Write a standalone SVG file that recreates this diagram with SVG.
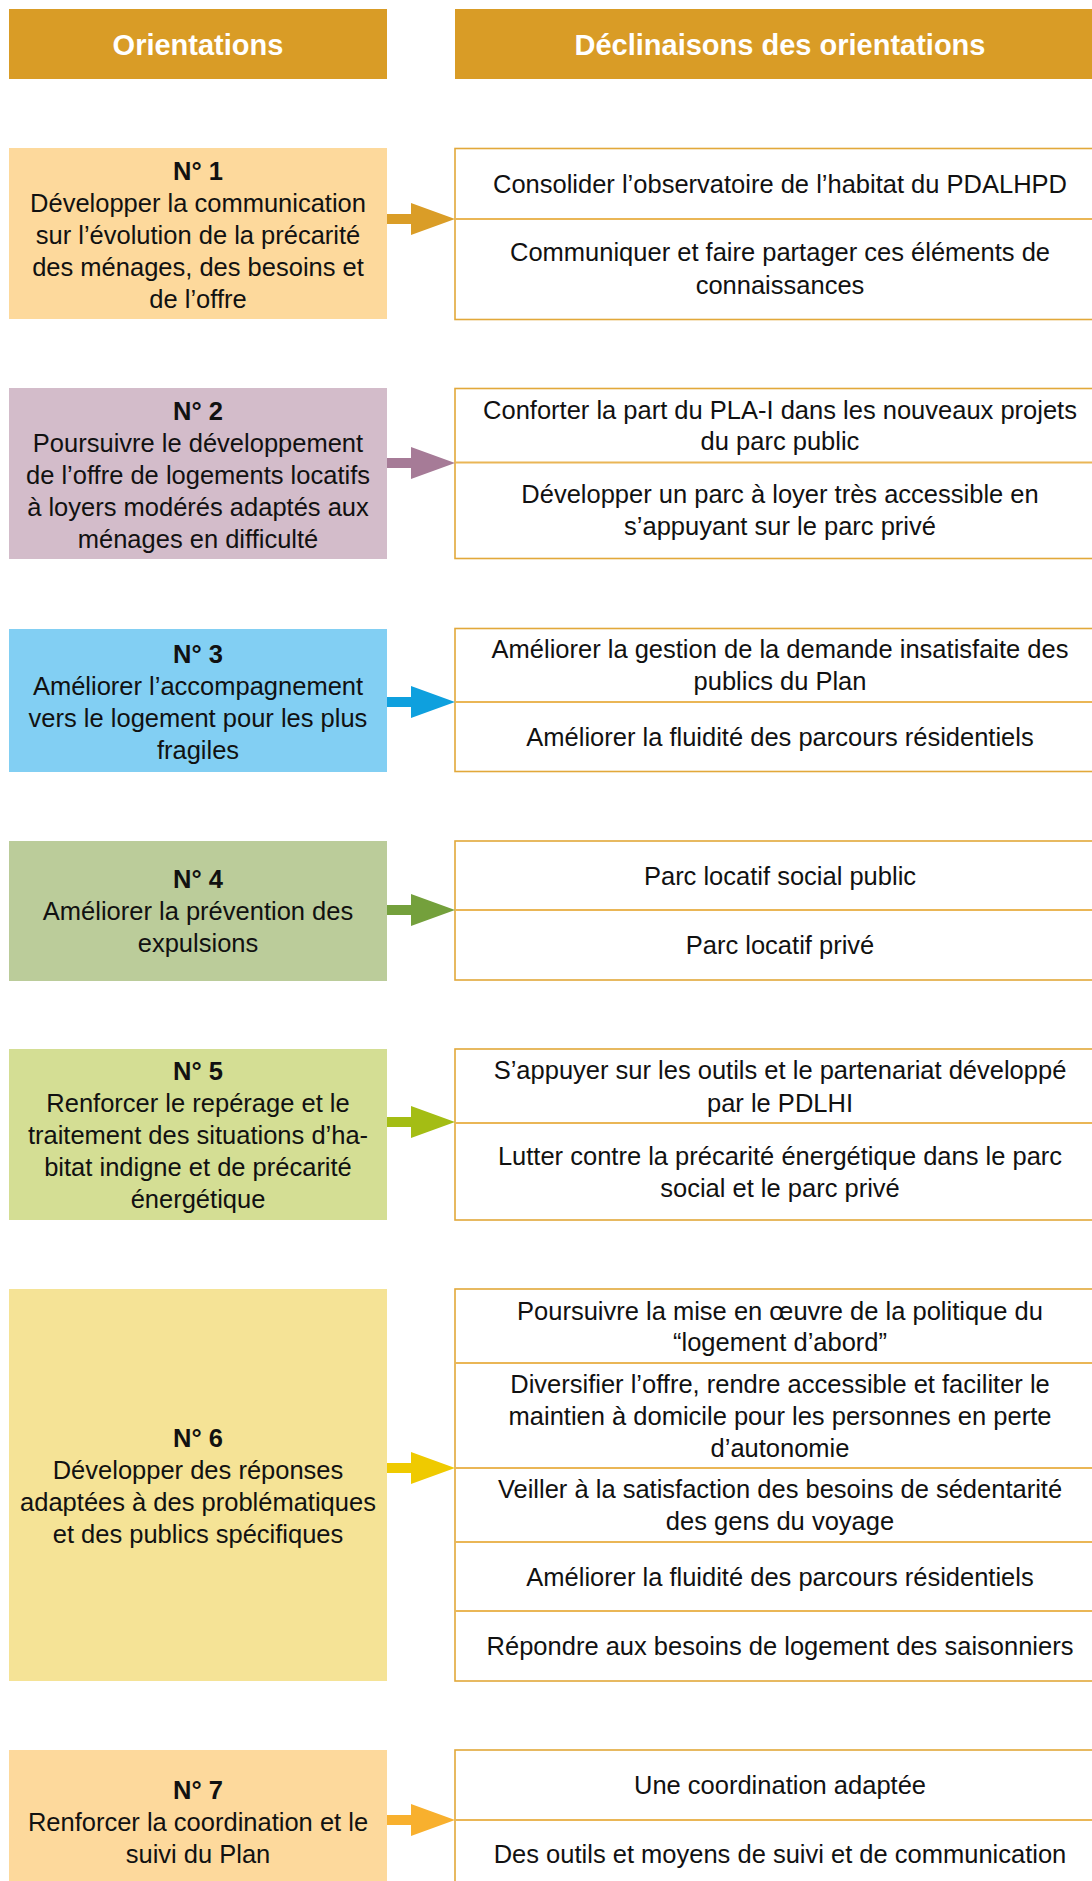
<svg xmlns="http://www.w3.org/2000/svg" width="1092" height="1881" viewBox="0 0 1092 1881">
<style>
.hd{fill:#D99C26}
.ht{font-family:"Liberation Sans",Arial,sans-serif;font-weight:bold;font-size:29px;fill:#fff;text-anchor:middle}
.lt{font-family:"Liberation Sans",Arial,sans-serif;font-size:25.5px;fill:#111;text-anchor:middle}
.nb{font-weight:bold}
.rb{fill:#fff;stroke:#E2A83A;stroke-width:1.6}
.dv{stroke:#EAB656;stroke-width:2;fill:none}
</style>
<rect width="1092" height="1881" fill="#fff"/>
<g id="headers">
<rect class="hd" x="9" y="9" width="378" height="70"/>
<text class="ht" x="198" y="55">Orientations</text>
<rect class="hd" x="455" y="9" width="650" height="70"/>
<text class="ht" x="780" y="55">Déclinaisons des orientations</text>
</g>

<g id="o1">
<rect x="9" y="148" width="378" height="171" fill="#FDD99C"/>
<text class="lt nb" x="198" y="180">N° 1</text>
<text class="lt" x="198" y="212">Développer la communication</text>
<text class="lt" x="198" y="244">sur l’évolution de la précarité</text>
<text class="lt" x="198" y="276">des ménages, des besoins et</text>
<text class="lt" x="198" y="308">de l’offre</text>
</g>
<g id="d1">
<rect class="rb" x="455" y="148.5" width="700" height="171"/>
<line class="dv" x1="455" y1="219" x2="1100" y2="219"/>
<text class="lt" x="780" y="193">Consolider l’observatoire de l’habitat du PDALHPD</text>
<text class="lt" x="780" y="261">Communiquer et faire partager ces éléments de</text>
<text class="lt" x="780" y="294">connaissances</text>
</g>

<g id="o2">
<rect x="9" y="388" width="378" height="171" fill="#D3BCCA"/>
<text class="lt nb" x="198" y="420">N° 2</text>
<text class="lt" x="198" y="452">Poursuivre le développement</text>
<text class="lt" x="198" y="484">de l’offre de logements locatifs</text>
<text class="lt" x="198" y="516">à loyers modérés adaptés aux</text>
<text class="lt" x="198" y="548">ménages en difficulté</text>
</g>
<g id="d2">
<rect class="rb" x="455" y="388.5" width="700" height="170"/>
<line class="dv" x1="455" y1="462.5" x2="1100" y2="462.5"/>
<text class="lt" x="780" y="419">Conforter la part du PLA-I dans les nouveaux projets</text>
<text class="lt" x="780" y="450">du parc public</text>
<text class="lt" x="780" y="503">Développer un parc à loyer très accessible en</text>
<text class="lt" x="780" y="535">s’appuyant sur le parc privé</text>
</g>

<g id="o3">
<rect x="9" y="629" width="378" height="143" fill="#82CFF3"/>
<text class="lt nb" x="198" y="663">N° 3</text>
<text class="lt" x="198" y="695">Améliorer l’accompagnement</text>
<text class="lt" x="198" y="727">vers le logement pour les plus</text>
<text class="lt" x="198" y="759">fragiles</text>
</g>
<g id="d3">
<rect class="rb" x="455" y="628.5" width="700" height="143"/>
<line class="dv" x1="455" y1="702" x2="1100" y2="702"/>
<text class="lt" x="780" y="658">Améliorer la gestion de la demande insatisfaite des</text>
<text class="lt" x="780" y="690">publics du Plan</text>
<text class="lt" x="780" y="746">Améliorer la fluidité des parcours résidentiels</text>
</g>

<g id="o4">
<rect x="9" y="841" width="378" height="140" fill="#BBCC9A"/>
<text class="lt nb" x="198" y="888">N° 4</text>
<text class="lt" x="198" y="920">Améliorer la prévention des</text>
<text class="lt" x="198" y="952">expulsions</text>
</g>
<g id="d4">
<rect class="rb" x="455" y="841" width="700" height="139"/>
<line class="dv" x1="455" y1="910" x2="1100" y2="910"/>
<text class="lt" x="780" y="885">Parc locatif social public</text>
<text class="lt" x="780" y="954">Parc locatif privé</text>
</g>

<g id="o5">
<rect x="9" y="1049" width="378" height="171" fill="#D4DE94"/>
<text class="lt nb" x="198" y="1080">N° 5</text>
<text class="lt" x="198" y="1112">Renforcer le repérage et le</text>
<text class="lt" x="198" y="1144">traitement des situations d’ha-</text>
<text class="lt" x="198" y="1176">bitat indigne et de précarité</text>
<text class="lt" x="198" y="1208">énergétique</text>
</g>
<g id="d5">
<rect class="rb" x="455" y="1049" width="700" height="171"/>
<line class="dv" x1="455" y1="1123" x2="1100" y2="1123"/>
<text class="lt" x="780" y="1079">S’appuyer sur les outils et le partenariat développé</text>
<text class="lt" x="780" y="1112">par le PDLHI</text>
<text class="lt" x="780" y="1165">Lutter contre la précarité énergétique dans le parc</text>
<text class="lt" x="780" y="1197">social et le parc privé</text>
</g>

<g id="o6">
<rect x="9" y="1289" width="378" height="392" fill="#F5E396"/>
<text class="lt nb" x="198" y="1447">N° 6</text>
<text class="lt" x="198" y="1479">Développer des réponses</text>
<text class="lt" x="198" y="1511">adaptées à des problématiques</text>
<text class="lt" x="198" y="1543">et des publics spécifiques</text>
</g>
<g id="d6">
<rect class="rb" x="455" y="1289" width="700" height="392"/>
<line class="dv" x1="455" y1="1363" x2="1100" y2="1363"/>
<line class="dv" x1="455" y1="1468" x2="1100" y2="1468"/>
<line class="dv" x1="455" y1="1542" x2="1100" y2="1542"/>
<line class="dv" x1="455" y1="1611" x2="1100" y2="1611"/>
<text class="lt" x="780" y="1320">Poursuivre la mise en œuvre de la politique du</text>
<text class="lt" x="780" y="1351">“logement d’abord”</text>
<text class="lt" x="780" y="1393">Diversifier l’offre, rendre accessible et faciliter le</text>
<text class="lt" x="780" y="1425">maintien à domicile pour les personnes en perte</text>
<text class="lt" x="780" y="1457">d’autonomie</text>
<text class="lt" x="780" y="1498">Veiller à la satisfaction des besoins de sédentarité</text>
<text class="lt" x="780" y="1530">des gens du voyage</text>
<text class="lt" x="780" y="1586">Améliorer la fluidité des parcours résidentiels</text>
<text class="lt" x="780" y="1655">Répondre aux besoins de logement des saisonniers</text>
</g>

<g id="o7">
<rect x="9" y="1750" width="378" height="140" fill="#FDD99C"/>
<text class="lt nb" x="198" y="1799">N° 7</text>
<text class="lt" x="198" y="1831">Renforcer la coordination et le</text>
<text class="lt" x="198" y="1863">suivi du Plan</text>
</g>
<g id="d7">
<rect class="rb" x="455" y="1750" width="700" height="150"/>
<line class="dv" x1="455" y1="1820" x2="1100" y2="1820"/>
<text class="lt" x="780" y="1794">Une coordination adaptée</text>
<text class="lt" x="780" y="1863">Des outils et moyens de suivi et de communication</text>
</g>

<g id="connectors">
<path fill="#DA9D27" d="M387 214H411V203L455 219L411 235V224H387Z"/>
<path fill="#A67B97" d="M387 458H411V447L455 463L411 479V468H387Z"/>
<path fill="#0EA0DE" d="M387 697H411V686L455 702L411 718V707H387Z"/>
<path fill="#74A03C" d="M387 905H411V894L455 910L411 926V915H387Z"/>
<path fill="#A4BD14" d="M387 1117H411V1106L455 1122L411 1138V1127H387Z"/>
<path fill="#EFCA00" d="M387 1463H411V1452L455 1468L411 1484V1473H387Z"/>
<path fill="#F8B02E" d="M387 1815H411V1804L455 1820L411 1836V1825H387Z"/>
</g>
</svg>
